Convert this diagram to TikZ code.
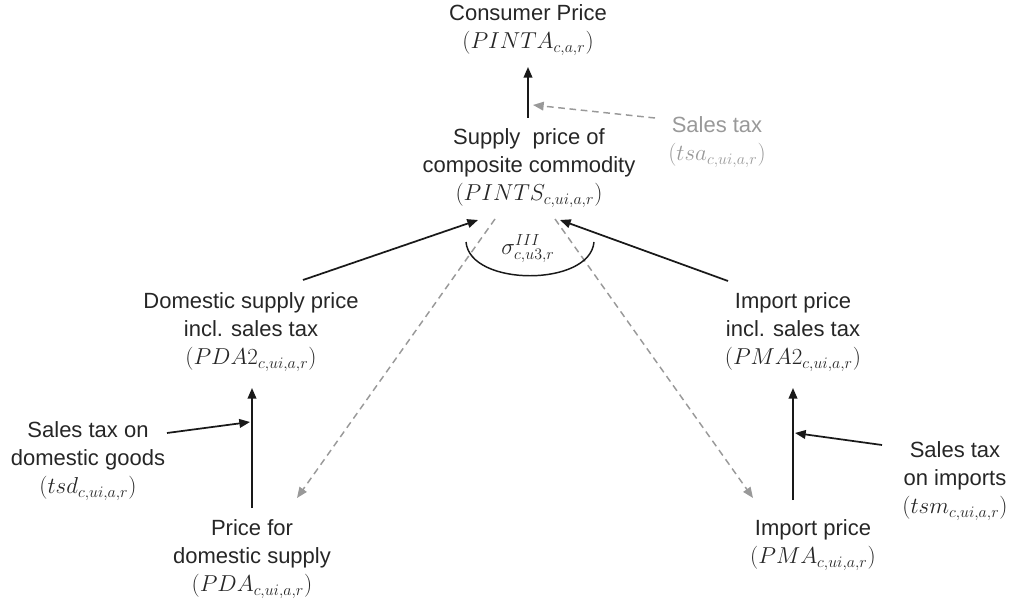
\documentclass[tikz,border=0pt]{standalone}
\usepackage{fontspec}
\setmainfont{Liberation Sans}
\usetikzlibrary{arrows.meta}
\tikzset{
    lbl/.style={align=center, inner sep=0pt, text=black!85, font=\fontsize{16.5}{21}\selectfont},
    graylbl/.style={lbl, text=black!40},
    arr/.style={line width=1.3pt, black!90, -{Triangle[length=8pt,width=6.5pt]}},
    grayarr/.style={line width=1.1pt, black!40, dash pattern=on 5pt off 3.5pt, -{Triangle[length=8pt,width=6.5pt]}}
}

\begin{document}
\begin{tikzpicture}[x=0.75pt, y=-0.75pt]
    \useasboundingbox (0,0) rectangle (1013,602);
    %top
    \node[lbl] (cons) at (528,30) {Consumer Price\\$(PINTA_{c,a,r})$};
    \node[lbl] (supp) at (529,168) {Supply\ \ price of\\composite commodity\\$(PINTS_{c,ui,a,r})$};
    \node[graylbl] (stax) at (717,142) {Sales tax\\$(tsa_{c,ui,a,r})$};
    %domestic
    \node[lbl] (dom2) at (251,332) {Domestic supply price\\incl. sales tax\\$(PDA2_{c,ui,a,r})$};
    \node[lbl] (dtax) at (88,461) {Sales tax on\\domestic goods\\$(tsd_{c,ui,a,r})$};
    \node[lbl] (dom) at (252,559) {Price for\\domestic supply\\$(PDA_{c,ui,a,r})$};
    %imports
    \node[lbl] (imp2) at (793,332) {Import price\\incl. sales tax\\$(PMA2_{c,ui,a,r})$};
    \node[lbl] (mtax) at (955,481) {Sales tax\\on imports\\$(tsm_{c,ui,a,r})$};
    \node[lbl] (imp) at (813,545) {Import price\\$(PMA_{c,ui,a,r})$};

    \coordinate (st) at (655,118);
    \coordinate (sj) at (533,105);
    \coordinate (dj) at (250,422);
    \coordinate (mj) at (795,433);
    \coordinate (sl) at (478,220);
    \coordinate (sr) at (560,220);
    \coordinate (dl) at (495,219);
    \coordinate (dr) at (555,219);

    \draw[arr] (528,118) -- (528,67);
    \draw[grayarr] (st) -- (sj);
    \draw[arr] (303,280) -- (sl);
    \draw[arr] (728,281) -- (sr);
    \draw[grayarr] (dl) -- (297,498);
    \draw[grayarr] (dr) -- (753,498);
    \draw[arr] (252,508) -- (252,388);
    \draw[arr] (167,433) -- (dj);
    \draw[arr] (793,500) -- (793,388);
    \draw[arr] (882,445) -- (mj);
    %elasticity
    \draw[line width=1.1pt, black!90] (466,242) .. controls (470,287) and (590,287) .. (594,242);
    \node[lbl] (sig) at (528,249) {$\sigma^{III}_{c,u3,r}$};
\end{tikzpicture}
\end{document}
